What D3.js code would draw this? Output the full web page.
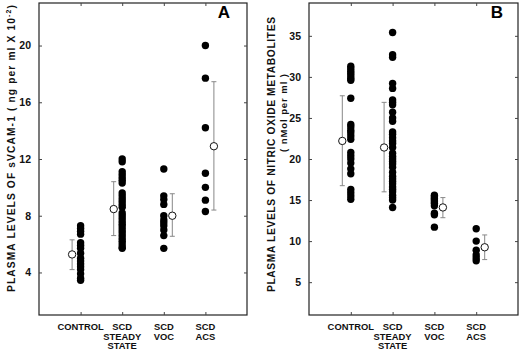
<!DOCTYPE html>
<html><head><meta charset="utf-8">
<script src="https://cdn.jsdelivr.net/npm/d3@7"></script>
<style>
body{margin:0;background:#fff;}
svg{display:block;font-family:"Liberation Sans",Arial,sans-serif;font-weight:bold;}
</style></head><body>
<svg id="c" width="520" height="350"></svg>
<script>
// ---- data ----
const categories = ["CONTROL", "SCD STEADY STATE", "SCD VOC", "SCD ACS"];
const categoryLines = [["CONTROL"], ["SCD", "STEADY", "STATE"], ["SCD", "VOC"], ["SCD", "ACS"]];

// Panel A: sVCAM-1 (ng per ml x 10^-2)
const vcamControl = [7.3, 7.1, 6.9, 6.7, 6.1, 5.9, 5.7, 5.35, 5.0, 4.8, 4.6, 4.4, 4.2, 3.9, 3.6, 3.45];
const vcamSteady = [12.0, 11.8, 11.1, 10.9, 10.7, 10.5, 10.3, 9.6, 9.4, 9.2, 9.0, 8.8, 8.6, 8.2, 8.0, 7.8, 7.6, 7.4, 7.2, 7.0, 6.8, 6.6, 6.4, 6.2, 6.0, 5.8, 5.7];
const vcamVoc = [11.3, 9.4, 9.15, 8.8, 8.0, 7.7, 7.5, 7.3, 7.0, 6.6, 5.7];
const vcamAcs = [20.0, 17.7, 14.2, 11.0, 10.0, 9.1, 8.3];
const vcamMean = [5.27, 8.47, 8.0, 12.9];
const vcamLow = [4.2, 6.6, 6.55, 8.4];
const vcamHigh = [6.3, 10.4, 9.55, 17.45];
const vcamTicks = [4, 8, 12, 16, 20];

// Panel B: nitric oxide metabolites (nMol per ml)
const noControl = [31.3, 31.0, 30.7, 30.4, 30.1, 29.8, 29.6, 27.4, 24.2, 23.9, 23.5, 23.2, 22.8, 22.4, 20.8, 20.4, 20.0, 19.5, 18.8, 18.2, 16.3, 15.9, 15.5, 15.1];
const noSteady = [35.4, 32.7, 32.4, 29.2, 28.6, 27.2, 26.9, 26.6, 25.7, 25.0, 24.6, 23.3, 23.0, 22.6, 22.2, 21.9, 21.4, 20.7, 20.3, 20.0, 19.7, 19.4, 19.0, 18.4, 17.9, 17.6, 17.3, 17.0, 16.6, 16.3, 16.0, 15.6, 15.3, 15.0, 14.1];
const noVoc = [15.6, 15.4, 15.2, 15.0, 14.8, 14.6, 14.3, 13.4, 13.2, 11.7];
const noAcs = [11.5, 10.0, 8.9, 8.3, 7.95, 7.6];
const noMean = [22.2, 21.4, 14.1, 9.25];
const noLow = [16.75, 16.0, 12.85, 7.75];
const noHigh = [27.7, 26.9, 15.3, 10.75];
const noTicks = [5, 10, 15, 20, 25, 30, 35];

const meanSide = [-1, -1, 1, 1]; // mean marker drawn left or right of dot column

// ---- drawing ----
const svg = d3.select("#c");

function panel(opt) {
  const g = svg.append("g");
  const x = d3.scalePoint().domain(categories).range([opt.x0, opt.x1]).padding(1);
  const y = d3.scaleLinear().domain(opt.domain).range([315, 3]);

  // frame
  g.append("rect").attr("x", opt.x0).attr("y", 3).attr("width", opt.x1 - opt.x0).attr("height", 312)
    .attr("fill", "none").attr("stroke", "#222").attr("stroke-width", 1.2);

  // inward ticks
  const tl = 3;
  g.append("g").attr("transform", `translate(${opt.x0},0)`)
    .call(d3.axisLeft(y).tickValues(opt.ticks).tickSize(-tl).tickPadding(8).tickFormat(d3.format("d")))
    .call(a => a.select(".domain").remove())
    .call(a => a.selectAll("text").attr("font-size", 10.5).attr("font-weight", "bold").attr("fill", "#111")
      .attr("font-family", "Liberation Sans, Arial, sans-serif"));
  g.append("g").attr("transform", `translate(${opt.x1},0)`)
    .call(d3.axisRight(y).tickValues(opt.ticks).tickSize(-tl).tickFormat(""))
    .call(a => a.select(".domain").remove());
  g.append("g").attr("transform", `translate(0,315)`)
    .call(d3.axisBottom(x).tickSize(-tl).tickFormat(""))
    .call(a => a.select(".domain").remove());
  g.append("g").attr("transform", `translate(0,3)`)
    .call(d3.axisTop(x).tickSize(-tl).tickFormat(""))
    .call(a => a.select(".domain").remove());
  g.selectAll(".tick line").attr("stroke", "#444");

  // category labels
  categoryLines.forEach((lines, i) => {
    const t = g.append("text").attr("text-anchor", "middle").attr("font-size", 9.4).attr("fill", "#111");
    lines.forEach((l, j) => t.append("tspan").attr("x", x(categories[i])).attr("y", 330 + j * 9.6).text(l));
  });

  // error bars and means
  categories.forEach((c, i) => {
    const cx = x(c) + meanSide[i] * 8.5;
    const eg = g.append("g").attr("stroke", "#888").attr("stroke-width", 1);
    eg.append("line").attr("x1", cx).attr("x2", cx).attr("y1", y(opt.low[i])).attr("y2", y(opt.high[i]));
    eg.append("line").attr("x1", cx - 2.5).attr("x2", cx + 2.5).attr("y1", y(opt.low[i])).attr("y2", y(opt.low[i]));
    eg.append("line").attr("x1", cx - 2.5).attr("x2", cx + 2.5).attr("y1", y(opt.high[i])).attr("y2", y(opt.high[i]));
  });

  // dots
  opt.groups.forEach((vals, i) => {
    g.selectAll(null).data(vals).enter().append("circle")
      .attr("cx", x(categories[i])).attr("cy", d => y(d)).attr("r", 3.7).attr("fill", "#000");
  });
  categories.forEach((c, i) => {
    g.append("circle").attr("cx", x(c) + meanSide[i] * 8.5).attr("cy", y(opt.mean[i])).attr("r", 3.7)
      .attr("fill", "#fff").attr("stroke", "#111").attr("stroke-width", 1);
  });

  // panel letter
  g.append("text").attr("x", opt.letterX).attr("y", 18).attr("text-anchor", "middle")
    .attr("font-size", 17).attr("fill", "#000").text(opt.letter);
}

panel({x0: 39, x1: 247, domain: [1, 23], ticks: vcamTicks,
  groups: [vcamControl, vcamSteady, vcamVoc, vcamAcs], mean: vcamMean, low: vcamLow, high: vcamHigh,
  letter: "A", letterX: 224});
panel({x0: 309, x1: 518, domain: [1, 39], ticks: noTicks,
  groups: [noControl, noSteady, noVoc, noAcs], mean: noMean, low: noLow, high: noHigh,
  letter: "B", letterX: 497});

// axis titles
const tA = svg.append("text").attr("transform", "translate(15,148.5) rotate(-90)")
  .attr("text-anchor", "middle").attr("font-size", 10.2).attr("fill", "#111")
  .attr("textLength", 287).attr("lengthAdjust", "spacing");
tA.append("tspan").text("PLASMA LEVELS OF sVCAM-1 ( ng per ml X 10");
tA.append("tspan").attr("dy", -4).attr("font-size", 7).text("-2");
tA.append("tspan").attr("dy", 4).text(")");

svg.append("text").attr("transform", "translate(275,154.5) rotate(-90)")
  .attr("text-anchor", "middle").attr("font-size", 10.2).attr("fill", "#111")
  .attr("textLength", 275).attr("lengthAdjust", "spacing")
  .text("PLASMA LEVELS OF NITRIC OXIDE METABOLITES");
svg.append("text").attr("transform", "translate(287,113) rotate(-90)")
  .attr("text-anchor", "middle").attr("font-size", 9.5).attr("fill", "#111")
  .attr("textLength", 78).attr("lengthAdjust", "spacing")
  .text("( nMol per ml )");
</script>
</body></html>
